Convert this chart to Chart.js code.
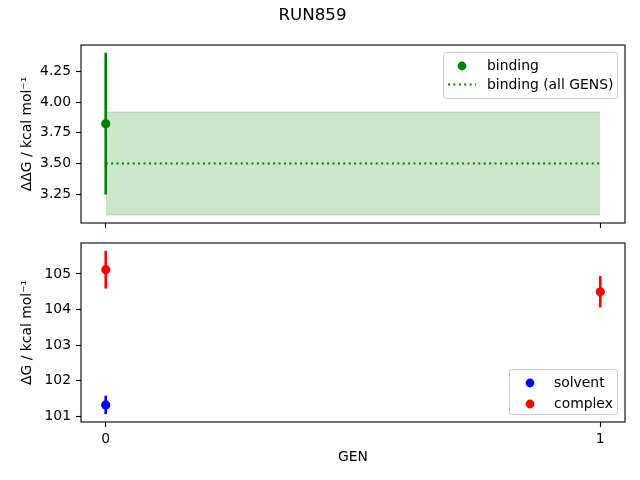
<!DOCTYPE html>
<html>
<head>
<meta charset="utf-8">
<script src="https://cdn.jsdelivr.net/npm/chart.js@4"></script>
<style>
  body { margin: 0; background: #fff; }
  #wrap { position: relative; width: 640px; height: 480px; overflow: hidden; font-family: 'DejaVu Sans', sans-serif; }
  canvas { position: absolute; left: 0; }
  #topChart { top: 0; }
  #bottomChart { top: 232px; }
  .legend { position: absolute; box-sizing: border-box; border: 1px solid #cccccc; border-radius: 3px; background: rgba(255,255,255,0.8); font-size: 13.9px; color: #000; }
  .legend .row { position: absolute; left: 0; height: 20px; line-height: 20px; white-space: nowrap; }
  .legend svg { position: absolute; top: 0; }
  .legend span { position: absolute; top: 0; }
</style>
</head>
<body>
<div id="wrap">
  <canvas id="topChart" width="640" height="232"></canvas>
  <canvas id="bottomChart" width="640" height="248"></canvas>
  <div class="legend" id="topLegend" style="left:443px; top:52px; width:175px; height:47px;"></div>
  <div class="legend" id="bottomLegend" style="left:509px; top:369px; width:109px; height:46px;"></div>
</div>
<script>
// values
const gens = [0, 1];
const bindingGens = [0];
const bindingValues = [3.825];
const bindingErrors = [0.575];
const bindingAllMean = 3.50;
const bindingAllError = 0.42;
const solventGens = [0];
const solventValues = [101.32];
const solventErrors = [0.25];
const complexGens = [0, 1];
const complexValues = [105.12, 104.50];
const complexErrors = [0.52, 0.43];
const topTicks = [3.25, 3.50, 3.75, 4.00, 4.25];
const bottomTicks = [101, 102, 103, 104, 105];
const xTicks = [0, 1];

const green = '#008000';
const blue = '#0000ff';
const red = '#ff0000';
const band = 'rgba(0,128,0,0.2)';

Chart.defaults.font.family = "'DejaVu Sans', sans-serif";
Chart.defaults.font.size = 13.9;
Chart.defaults.color = '#000';

const points = (xs, ys) => ys.map((v, i) => ({ x: xs[i], y: v }));
const errBars = (xs, ys, es) => ys.map((v, i) => ({ x: xs[i], y: [v - es[i], v + es[i]] }));
const flat = (xs, v) => xs.map(x => ({ x: x, y: v }));

const frame = {
    id: 'frame',
    afterDraw(c) {
        const a = c.chartArea, ctx = c.ctx;
        ctx.save();
        ctx.strokeStyle = '#000';
        ctx.lineWidth = 1.1;
        ctx.strokeRect(a.left, a.top, a.right - a.left, a.bottom - a.top);
        ctx.restore();
    }
};

function xScale(showLabels, axisHeight) {
    return {
        type: 'linear', min: -0.05, max: 1.05, offset: false,
        afterBuildTicks: s => { s.ticks = xTicks.map(v => ({ value: v })); },
        afterFit: s => { s.height = axisHeight; },
        grid: { offset: false, drawOnChartArea: false, tickLength: 5, tickColor: '#000', tickWidth: 1.1 },
        border: { display: false },
        ticks: { display: showLabels, padding: 4, callback: v => String(v) },
        title: { display: showLabels, text: 'GEN', padding: { top: 0, bottom: 14.7 } }
    };
}

function yScale(min, max, ticks, fmt, label) {
    return {
        type: 'linear', min: min, max: max,
        afterBuildTicks: s => { s.ticks = ticks.map(v => ({ value: v })); },
        afterFit: s => { s.width = 81; s.paddingTop = 0; s.paddingBottom = 0; },
        grid: { drawOnChartArea: false, tickLength: 5, tickColor: '#000', tickWidth: 1.1 },
        border: { display: false },
        ticks: { padding: 5, callback: fmt },
        title: { display: true, text: label, padding: { top: 18.7, bottom: 0 } }
    };
}

const topChart = new Chart(document.getElementById('topChart'), {
    type: 'scatter',
    data: {
        datasets: [
            { label: 'binding', legendKind: 'dot', data: points(bindingGens, bindingValues),
              pointRadius: 4.6, pointBorderWidth: 0, backgroundColor: green, borderColor: green, order: 0 },
            { type: 'bar', data: errBars(bindingGens, bindingValues, bindingErrors),
              backgroundColor: green, barThickness: 2, grouped: false, order: 1 },
            { label: 'binding (all GENS)', legendKind: 'dotted', type: 'line', data: flat(gens, bindingAllMean),
              borderColor: green, borderWidth: 2, borderDash: [2, 3.4], pointRadius: 0, fill: false, order: 2 },
            { type: 'line', data: flat(gens, bindingAllMean + bindingAllError),
              borderColor: band, borderWidth: 1, pointRadius: 0, fill: false, order: 3 },
            { type: 'line', data: flat(gens, bindingAllMean - bindingAllError),
              borderColor: band, borderWidth: 1, pointRadius: 0, fill: '-1', backgroundColor: band, order: 3 }
        ]
    },
    options: {
        responsive: false,
        animation: false,
        layout: { padding: { top: 0, left: 0, right: 15, bottom: 0 } },
        scales: {
            x: xScale(false, 9),
            y: yScale(3.015, 4.466, topTicks, v => v.toFixed(2), 'ΔΔG / kcal mol⁻¹')
        },
        plugins: {
            legend: { display: false },
            tooltip: { enabled: false },
            title: { display: true, text: 'RUN859', font: { size: 16.7, weight: 'normal' }, padding: { top: 6, bottom: 19 } }
        }
    },
    plugins: [frame]
});

const bottomChart = new Chart(document.getElementById('bottomChart'), {
    type: 'scatter',
    data: {
        datasets: [
            { label: 'solvent', legendKind: 'dot', data: points(solventGens, solventValues),
              pointRadius: 4.6, pointBorderWidth: 0, backgroundColor: blue, borderColor: blue, order: 0 },
            { label: 'complex', legendKind: 'dot', data: points(complexGens, complexValues),
              pointRadius: 4.6, pointBorderWidth: 0, backgroundColor: red, borderColor: red, order: 0 },
            { type: 'bar', data: errBars(solventGens, solventValues, solventErrors),
              backgroundColor: blue, barThickness: 2, grouped: false, order: 1 },
            { type: 'bar', data: errBars(complexGens, complexValues, complexErrors),
              backgroundColor: red, barThickness: 2, grouped: false, order: 1 }
        ]
    },
    options: {
        responsive: false,
        animation: false,
        layout: { padding: { top: 11, left: 0, right: 15, bottom: 0 } },
        scales: {
            x: xScale(true, 58),
            y: yScale(100.84, 105.87, bottomTicks, v => String(v), 'ΔG / kcal mol⁻¹')
        },
        plugins: {
            legend: { display: false },
            tooltip: { enabled: false }
        }
    },
    plugins: [frame]
});

// matplotlib-style legend boxes built from the labelled datasets
function buildLegend(chart, el, rowTops, markX, textX) {
    const items = chart.data.datasets.filter(d => d.label);
    items.forEach((d, i) => {
        const row = document.createElement('div');
        row.className = 'row';
        row.style.top = rowTops[i] + 'px';
        row.style.width = '100%';
        let svg;
        if (d.legendKind === 'dotted') {
            svg = `<svg width="40" height="20" style="left:${markX - 14}px"><line x1="0" y1="10.5" x2="28" y2="10.5" stroke="${d.borderColor}" stroke-width="2" stroke-dasharray="2 3.4"/></svg>`;
        } else {
            svg = `<svg width="20" height="20" style="left:${markX - 10}px"><circle cx="10" cy="11" r="4.4" fill="${d.backgroundColor}"/></svg>`;
        }
        row.innerHTML = svg + `<span style="left:${textX}px">${d.label}</span>`;
        el.appendChild(row);
    });
}
buildLegend(topChart, document.getElementById('topLegend'), [2, 21], 18, 43);
buildLegend(bottomChart, document.getElementById('bottomLegend'), [1.5, 22.5], 20, 44);
</script>
</body>
</html>
